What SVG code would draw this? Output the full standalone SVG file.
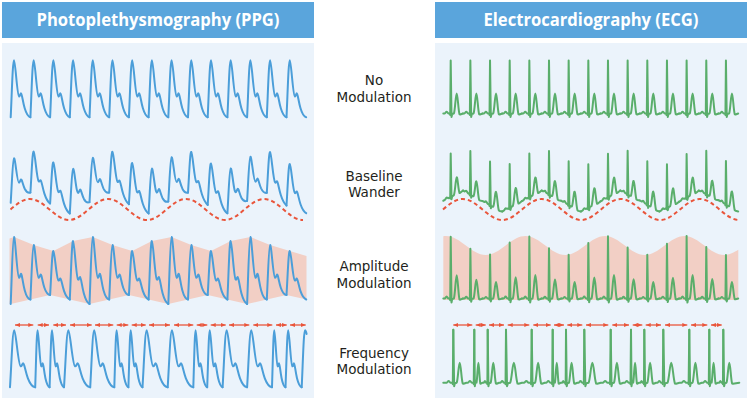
<svg xmlns="http://www.w3.org/2000/svg" xmlns:xlink="http://www.w3.org/1999/xlink" width="750" height="400" viewBox="0 0 750 400">
<style>
.hdr{fill:#5aa5dc}
.panel{fill:#ebf3fb}
.htxt{font-family:"Open Sans","Noto Sans","DejaVu Sans",sans-serif;font-weight:700;font-size:17.5px;fill:#ffffff;text-anchor:middle}
.lbl{font-family:"DejaVu Sans","Liberation Sans",sans-serif;font-size:13.5px;fill:#231f20;text-anchor:middle}
.ppg{fill:none;stroke:#4b9ed9;stroke-width:2;stroke-linejoin:round;stroke-linecap:round}
.ecg{fill:none;stroke:#5aae6b;stroke-width:2;stroke-linejoin:round;stroke-linecap:round}
.wander{fill:none;stroke:#e9553b;stroke-width:2;stroke-dasharray:4 3}
.env{fill:#f2cfc5}
.arr{stroke:#e9553b;stroke-width:1.3;marker-start:url(#ah);marker-end:url(#ah)}
.nss{vector-effect:non-scaling-stroke}
</style>
<defs>
<marker id="ah" viewBox="0 0 5 4" refX="5" refY="2" markerWidth="5" markerHeight="4" markerUnits="userSpaceOnUse" orient="auto-start-reverse"><path d="M0,0 L5,2 L0,4 z" fill="#e9553b"/></marker>
<path id="ppgBeat" class="nss" d="M0,0 C1.2,-25 2,-57 3.3,-57 C4.6,-57 6.4,-22 8.3,-21 C9.2,-20.5 9.6,-24 10.3,-24 C11.2,-24 12,-16 14,-9 C15.5,-4 17.5,-0.5 19.7,0"/>
<path id="ecgBeat" class="nss" d="M0,0 L1.5,0 C2.2,0 2.6,-1.8 3.3,-1.8 C4,-1.8 4.4,0 5.1,0 L6.5,0 L6.9,1.5 L7.4,-53 L8.2,3.5 L8.9,0.5 L10.6,0 C11.8,-3 12.4,-20 13.4,-20 C14.4,-20 15,-3 16.2,0.8 L17,1 L19.66,0"/>
<path id="ecgRR" class="nss" d="M0,-53 L0.8,3.5 L1.5,0.5 L3.2,0 C4.4,-3 5,-20 6,-20 C7,-20 7.6,-3 8.8,0.8 L9.6,1 L12.26,0 L13.76,0 C14.46,0 14.86,-1.8 15.56,-1.8 C16.26,-1.8 16.66,0 17.36,0 L18.76,0 L19.16,1.5 L19.66,-53"/>
</defs>

<g id="ppg-panel">
<rect class="hdr" x="2" y="2" width="312" height="36"/>
<text class="htxt" x="158" y="26" textLength="243" lengthAdjust="spacingAndGlyphs">Photoplethysmography (PPG)</text>
<rect class="panel" x="2" y="43" width="312" height="355"/>
</g>
<g id="ecg-panel">
<rect class="hdr" x="435" y="2" width="312" height="36"/>
<text class="htxt" x="591" y="26" textLength="215" lengthAdjust="spacingAndGlyphs">Electrocardiography (ECG)</text>
<rect class="panel" x="435" y="43" width="312" height="355"/>
</g>

<g id="labels">
<text class="lbl" x="374" y="85">No<tspan x="374" dy="16.5">Modulation</tspan></text>
<text class="lbl" x="374" y="180.7">Baseline<tspan x="374" dy="16.6">Wander</tspan></text>
<text class="lbl" x="374" y="270.5">Amplitude<tspan x="374" dy="17">Modulation</tspan></text>
<text class="lbl" x="374" y="357.5">Frequency<tspan x="374" dy="16.8">Modulation</tspan></text>
</g>

<g id="ppg-no-modulation" class="ppg">
<use xlink:href="#ppgBeat" transform="translate(10.7,117.3)"/>
<use xlink:href="#ppgBeat" transform="translate(30.4,117.3)"/>
<use xlink:href="#ppgBeat" transform="translate(50.1,117.3)"/>
<use xlink:href="#ppgBeat" transform="translate(69.8,117.3)"/>
<use xlink:href="#ppgBeat" transform="translate(89.5,117.3)"/>
<use xlink:href="#ppgBeat" transform="translate(109.2,117.3)"/>
<use xlink:href="#ppgBeat" transform="translate(128.9,117.3)"/>
<use xlink:href="#ppgBeat" transform="translate(148.6,117.3)"/>
<use xlink:href="#ppgBeat" transform="translate(168.3,117.3)"/>
<use xlink:href="#ppgBeat" transform="translate(188,117.3)"/>
<use xlink:href="#ppgBeat" transform="translate(207.7,117.3)"/>
<use xlink:href="#ppgBeat" transform="translate(227.4,117.3)"/>
<use xlink:href="#ppgBeat" transform="translate(247.1,117.3)"/>
<use xlink:href="#ppgBeat" transform="translate(266.8,117.3)"/>
<use xlink:href="#ppgBeat" transform="translate(286.5,117.3)"/>
</g>

<g id="ecg-no-modulation" class="ecg">
<use xlink:href="#ecgBeat" transform="translate(443.3,113.5)"/>
<use xlink:href="#ecgBeat" transform="translate(462.96,113.5)"/>
<use xlink:href="#ecgBeat" transform="translate(482.62,113.5)"/>
<use xlink:href="#ecgBeat" transform="translate(502.28,113.5)"/>
<use xlink:href="#ecgBeat" transform="translate(521.94,113.5)"/>
<use xlink:href="#ecgBeat" transform="translate(541.6,113.5)"/>
<use xlink:href="#ecgBeat" transform="translate(561.26,113.5)"/>
<use xlink:href="#ecgBeat" transform="translate(580.92,113.5)"/>
<use xlink:href="#ecgBeat" transform="translate(600.58,113.5)"/>
<use xlink:href="#ecgBeat" transform="translate(620.24,113.5)"/>
<use xlink:href="#ecgBeat" transform="translate(639.9,113.5)"/>
<use xlink:href="#ecgBeat" transform="translate(659.56,113.5)"/>
<use xlink:href="#ecgBeat" transform="translate(679.22,113.5)"/>
<use xlink:href="#ecgBeat" transform="translate(698.88,113.5)"/>
<use xlink:href="#ecgBeat" transform="translate(718.54,113.5)"/>
</g>

<g id="ppg-baseline-wander">
<path class="wander" d="M10.5,209.5 c6.36,-5.38 12.44,-10.5 19.5,-10.5 c7.06,0 13.14,5.12 19.5,10.5 c6.36,5.38 12.44,10.5 19.5,10.5 c7.06,0 13.14,-5.12 19.5,-10.5 c6.36,-5.38 12.44,-10.5 19.5,-10.5 c7.06,0 13.14,5.12 19.5,10.5 c6.36,5.38 12.44,10.5 19.5,10.5 c7.06,0 13.14,-5.12 19.5,-10.5 c6.36,-5.38 12.44,-10.5 19.5,-10.5 c7.06,0 13.14,5.12 19.5,10.5 c6.36,5.38 12.44,10.5 19.5,10.5 c7.06,0 13.14,-5.12 19.5,-10.5 c6.36,-5.38 12.44,-10.5 19.5,-10.5 c7.06,0 13.14,5.12 19.5,10.5 c6.36,5.38 12.44,10.5 19.5,10.5"/>
<g class="ppg">
<use xlink:href="#ppgBeat" transform="matrix(1,-0.5239,0,0.75,10.7,202.83)"/>
<use xlink:href="#ppgBeat" transform="matrix(1,0.5584,0,0.75,30.4,192.51)"/>
<use xlink:href="#ppgBeat" transform="matrix(1,0.5056,0,0.75,50.1,203.51)"/>
<use xlink:href="#ppgBeat" transform="matrix(1,-0.5741,0,0.75,69.8,213.47)"/>
<use xlink:href="#ppgBeat" transform="matrix(1,-0.4878,0,0.75,89.5,202.16)"/>
<use xlink:href="#ppgBeat" transform="matrix(1,0.5904,0,0.75,109.2,192.55)"/>
<use xlink:href="#ppgBeat" transform="matrix(1,0.4685,0,0.75,128.9,204.18)"/>
<use xlink:href="#ppgBeat" transform="matrix(1,-0.6056,0,0.75,148.6,213.41)"/>
<use xlink:href="#ppgBeat" transform="matrix(1,-0.4487,0,0.75,168.3,201.48)"/>
<use xlink:href="#ppgBeat" transform="matrix(1,0.6198,0,0.75,188,192.64)"/>
<use xlink:href="#ppgBeat" transform="matrix(1,0.4289,0,0.75,207.7,204.85)"/>
<use xlink:href="#ppgBeat" transform="matrix(1,-0.6335,0,0.75,227.4,213.3)"/>
<use xlink:href="#ppgBeat" transform="matrix(1,-0.4086,0,0.75,247.1,200.82)"/>
<use xlink:href="#ppgBeat" transform="matrix(1,0.6472,0,0.75,266.8,192.77)"/>
<use xlink:href="#ppgBeat" transform="matrix(1,0.3878,0,0.75,286.5,205.52)"/>
</g>
</g>

<g id="ecg-baseline-wander">
<path class="wander" d="M443,209.5 c6.44,-5.38 12.6,-10.5 19.75,-10.5 c7.15,0 13.31,5.12 19.75,10.5 c6.44,5.38 12.6,10.5 19.75,10.5 c7.15,0 13.31,-5.12 19.75,-10.5 c6.44,-5.38 12.6,-10.5 19.75,-10.5 c7.15,0 13.31,5.12 19.75,10.5 c6.44,5.38 12.6,10.5 19.75,10.5 c7.15,0 13.31,-5.12 19.75,-10.5 c6.44,-5.38 12.6,-10.5 19.75,-10.5 c7.15,0 13.31,5.12 19.75,10.5 c6.44,5.38 12.6,10.5 19.75,10.5 c7.15,0 13.31,-5.12 19.75,-10.5 c6.44,-5.38 12.6,-10.5 19.75,-10.5 c7.15,0 13.31,5.12 19.75,10.5 c6.44,5.38 12.6,10.5 19.75,10.5"/>
<g class="ecg">
<use xlink:href="#ecgBeat" transform="matrix(1,-0.5214,0,0.82,443.3,200.75)"/>
<use xlink:href="#ecgBeat" transform="matrix(1,0.5392,0,0.82,462.96,190.5)"/>
<use xlink:href="#ecgBeat" transform="matrix(1,0.529,0,0.82,482.62,201.1)"/>
<use xlink:href="#ecgBeat" transform="matrix(1,-0.5315,0,0.82,502.28,211.5)"/>
<use xlink:href="#ecgBeat" transform="matrix(1,-0.5366,0,0.82,521.94,201.05)"/>
<use xlink:href="#ecgBeat" transform="matrix(1,0.5239,0,0.82,541.6,190.5)"/>
<use xlink:href="#ecgBeat" transform="matrix(1,0.5443,0,0.82,561.26,200.8)"/>
<use xlink:href="#ecgBeat" transform="matrix(1,-0.5163,0,0.82,580.92,211.5)"/>
<use xlink:href="#ecgBeat" transform="matrix(1,-0.5514,0,0.82,600.58,201.35)"/>
<use xlink:href="#ecgBeat" transform="matrix(1,0.5081,0,0.82,620.24,190.51)"/>
<use xlink:href="#ecgBeat" transform="matrix(1,0.5585,0,0.82,639.9,200.5)"/>
<use xlink:href="#ecgBeat" transform="matrix(1,-0.5,0,0.82,659.56,211.48)"/>
<use xlink:href="#ecgBeat" transform="matrix(1,-0.5656,0,0.82,679.22,201.65)"/>
<use xlink:href="#ecgBeat" transform="matrix(1,0.4919,0,0.82,698.88,190.53)"/>
<use xlink:href="#ecgBeat" transform="matrix(1,0.5727,0,0.82,718.54,200.2)"/>
</g>
</g>

<g id="ppg-amplitude-modulation">
<polygon class="env" points="9.5,238.5 14,237 33.7,245 53.4,251 73.1,241 92.8,237 112.5,245 132.2,251 151.9,241 171.6,237 191.3,245 211,251 230.7,241 250.4,237 270.1,245 289.8,251 306.5,256 306.5,299.5 286.5,295 266.8,299.5 247.1,304 227.4,299.5 207.7,295 188,299.5 168.3,304 148.6,299.5 128.9,295 109.2,299.5 89.5,304 69.8,299.5 50.1,295 30.4,299.5 10.7,304 9.5,304"/>
<g class="ppg">
<use xlink:href="#ppgBeat" transform="matrix(1,-0.2284,0,1.162,10.7,304)"/>
<use xlink:href="#ppgBeat" transform="matrix(1,-0.2284,0,0.943,30.4,299.5)"/>
<use xlink:href="#ppgBeat" transform="matrix(1,0.2284,0,0.785,50.1,295)"/>
<use xlink:href="#ppgBeat" transform="matrix(1,0.2284,0,1.039,69.8,299.5)"/>
<use xlink:href="#ppgBeat" transform="matrix(1,-0.2284,0,1.162,89.5,304)"/>
<use xlink:href="#ppgBeat" transform="matrix(1,-0.2284,0,0.943,109.2,299.5)"/>
<use xlink:href="#ppgBeat" transform="matrix(1,0.2284,0,0.785,128.9,295)"/>
<use xlink:href="#ppgBeat" transform="matrix(1,0.2284,0,1.039,148.6,299.5)"/>
<use xlink:href="#ppgBeat" transform="matrix(1,-0.2284,0,1.162,168.3,304)"/>
<use xlink:href="#ppgBeat" transform="matrix(1,-0.2284,0,0.943,188,299.5)"/>
<use xlink:href="#ppgBeat" transform="matrix(1,0.2284,0,0.785,207.7,295)"/>
<use xlink:href="#ppgBeat" transform="matrix(1,0.2284,0,1.039,227.4,299.5)"/>
<use xlink:href="#ppgBeat" transform="matrix(1,-0.2284,0,1.162,247.1,304)"/>
<use xlink:href="#ppgBeat" transform="matrix(1,-0.2284,0,0.943,266.8,299.5)"/>
<use xlink:href="#ppgBeat" transform="matrix(1,0.2284,0,0.785,286.5,295)"/>
</g>
</g>

<g id="ecg-amplitude-modulation">
<path class="env" d="M443.3,300 L443.3,236.2 C444.2,236.05 445.1,236 446,236 c7.19,0 13.39,4.63 19.875,9.5 c6.48,4.87 12.68,9.5 19.875,9.5 c7.19,0 13.39,-4.63 19.875,-9.5 c6.48,-4.87 12.68,-9.5 19.875,-9.5 c7.19,0 13.39,4.63 19.875,9.5 c6.48,4.87 12.68,9.5 19.875,9.5 c7.19,0 13.39,-4.63 19.875,-9.5 c6.48,-4.87 12.68,-9.5 19.875,-9.5 c7.19,0 13.39,4.63 19.875,9.5 c6.48,4.87 12.68,9.5 19.875,9.5 c7.19,0 13.39,-4.63 19.875,-9.5 c6.48,-4.87 12.68,-9.5 19.875,-9.5 c7.19,0 13.39,4.63 19.875,9.5 c6.48,4.87 12.68,9.5 19.875,9.5 c5,0 10,-3 14.05,-5.3 L738.3,300 Z"/>
<g class="ecg">
<use xlink:href="#ecgBeat" transform="matrix(1,0,0,1.167,443.3,298.5)"/>
<use xlink:href="#ecgBeat" transform="matrix(1,0,0,0.938,462.96,298.5)"/>
<use xlink:href="#ecgBeat" transform="matrix(1,0,0,0.831,482.62,298.5)"/>
<use xlink:href="#ecgBeat" transform="matrix(1,0,0,1.057,502.28,298.5)"/>
<use xlink:href="#ecgBeat" transform="matrix(1,0,0,1.171,521.94,298.5)"/>
<use xlink:href="#ecgBeat" transform="matrix(1,0,0,0.949,541.6,298.5)"/>
<use xlink:href="#ecgBeat" transform="matrix(1,0,0,0.827,561.26,298.5)"/>
<use xlink:href="#ecgBeat" transform="matrix(1,0,0,1.045,580.92,298.5)"/>
<use xlink:href="#ecgBeat" transform="matrix(1,0,0,1.174,600.58,298.5)"/>
<use xlink:href="#ecgBeat" transform="matrix(1,0,0,0.961,620.24,298.5)"/>
<use xlink:href="#ecgBeat" transform="matrix(1,0,0,0.824,639.9,298.5)"/>
<use xlink:href="#ecgBeat" transform="matrix(1,0,0,1.033,659.56,298.5)"/>
<use xlink:href="#ecgBeat" transform="matrix(1,0,0,1.177,679.22,298.5)"/>
<use xlink:href="#ecgBeat" transform="matrix(1,0,0,0.973,698.88,298.5)"/>
<use xlink:href="#ecgBeat" transform="matrix(1,0,0,0.822,718.54,298.5)"/>
</g>
</g>

<g id="ppg-frequency-modulation">
<g class="arrows">
<line class="arr" x1="15" y1="325" x2="33.3" y2="325"/>
<line class="arr" x1="37.7" y1="325" x2="49" y2="325"/>
<line class="arr" x1="53.3" y1="325" x2="66" y2="325"/>
<line class="arr" x1="70" y1="325" x2="91.7" y2="325"/>
<line class="arr" x1="95" y1="325" x2="113.3" y2="325"/>
<line class="arr" x1="116.7" y1="325" x2="128.3" y2="325"/>
<line class="arr" x1="131.7" y1="325" x2="145.7" y2="325"/>
<line class="arr" x1="149" y1="325" x2="170" y2="325"/>
<line class="arr" x1="174" y1="325" x2="193.3" y2="325"/>
<line class="arr" x1="196.7" y1="325" x2="207.3" y2="325"/>
<line class="arr" x1="210.7" y1="325" x2="225.7" y2="325"/>
<line class="arr" x1="229" y1="325" x2="249.3" y2="325"/>
<line class="arr" x1="253.3" y1="325" x2="272.3" y2="325"/>
<line class="arr" x1="276" y1="325" x2="286.7" y2="325"/>
<line class="arr" x1="290" y1="325" x2="305.7" y2="325"/>
</g>
<g class="ppg">
<use xlink:href="#ppgBeat" transform="matrix(1.279,0,0,1,10,387.3)"/>
<use xlink:href="#ppgBeat" transform="matrix(0.731,0,0,1,35.2,387.3)"/>
<use xlink:href="#ppgBeat" transform="matrix(0.731,0,0,1,49.6,387.3)"/>
<use xlink:href="#ppgBeat" transform="matrix(1.33,0,0,1,64,387.3)"/>
<use xlink:href="#ppgBeat" transform="matrix(1.223,0,0,1,90.2,387.3)"/>
<use xlink:href="#ppgBeat" transform="matrix(0.716,0,0,1,114.3,387.3)"/>
<use xlink:href="#ppgBeat" transform="matrix(0.716,0,0,1,128.4,387.3)"/>
<use xlink:href="#ppgBeat" transform="matrix(1.279,0,0,1,142.5,387.3)"/>
<use xlink:href="#ppgBeat" transform="matrix(1.299,0,0,1,167.7,387.3)"/>
<use xlink:href="#ppgBeat" transform="matrix(0.706,0,0,1,193.3,387.3)"/>
<use xlink:href="#ppgBeat" transform="matrix(0.782,0,0,1,207.2,387.3)"/>
<use xlink:href="#ppgBeat" transform="matrix(1.244,0,0,1,222.6,387.3)"/>
<use xlink:href="#ppgBeat" transform="matrix(1.264,0,0,1,247.1,387.3)"/>
<use xlink:href="#ppgBeat" transform="matrix(0.685,0,0,1,272,387.3)"/>
<use xlink:href="#ppgBeat" transform="matrix(0.822,0,0,1,285.5,387.3)"/>
<path d="M301.7,387.3 C302.9,362.3 303.7,330.3 305,330.3 C305.8,330.3 306.2,332 306.6,334"/>
</g>
</g>

<g id="ecg-frequency-modulation">
<g class="arrows">
<line class="arr" x1="453.3" y1="325" x2="472.3" y2="325"/>
<line class="arr" x1="475.7" y1="325" x2="485.7" y2="325"/>
<line class="arr" x1="489" y1="325" x2="504" y2="325"/>
<line class="arr" x1="507.7" y1="325" x2="529.3" y2="325"/>
<line class="arr" x1="533.3" y1="325" x2="550.7" y2="325"/>
<line class="arr" x1="554" y1="325" x2="564" y2="325"/>
<line class="arr" x1="567.3" y1="325" x2="582.3" y2="325"/>
<line class="arr" x1="586" y1="325" x2="608.3" y2="325"/>
<line class="arr" x1="612.3" y1="325" x2="629" y2="325"/>
<line class="arr" x1="632.7" y1="325" x2="642.3" y2="325"/>
<line class="arr" x1="645.7" y1="325" x2="661" y2="325"/>
<line class="arr" x1="665" y1="325" x2="687.3" y2="325"/>
<line class="arr" x1="691" y1="325" x2="707.3" y2="325"/>
<line class="arr" x1="711" y1="325" x2="721.7" y2="325"/>
</g>
<g class="ecg">
<path d="M443.3,382.7 L446.8,382.7 C447.5,382.7 447.9,380.9 448.6,380.9 C449.3,380.9 449.7,382.7 450.4,382.7 L452.4,382.7 L452.8,384.2 L453.3,329.7"/>
<use xlink:href="#ecgRR" transform="matrix(1.068,0,0,1,453.3,382.7)"/>
<use xlink:href="#ecgRR" transform="matrix(0.682,0,0,1,474.3,382.7)"/>
<use xlink:href="#ecgRR" transform="matrix(0.931,0,0,1,487.7,382.7)"/>
<use xlink:href="#ecgRR" transform="matrix(1.307,0,0,1,506,382.7)"/>
<use xlink:href="#ecgRR" transform="matrix(1.068,0,0,1,531.7,382.7)"/>
<use xlink:href="#ecgRR" transform="matrix(0.677,0,0,1,552.7,382.7)"/>
<use xlink:href="#ecgRR" transform="matrix(0.931,0,0,1,566,382.7)"/>
<use xlink:href="#ecgRR" transform="matrix(1.343,0,0,1,584.3,382.7)"/>
<use xlink:href="#ecgRR" transform="matrix(1.033,0,0,1,610.7,382.7)"/>
<use xlink:href="#ecgRR" transform="matrix(0.677,0,0,1,631,382.7)"/>
<use xlink:href="#ecgRR" transform="matrix(0.966,0,0,1,644.3,382.7)"/>
<use xlink:href="#ecgRR" transform="matrix(1.322,0,0,1,663.3,382.7)"/>
<use xlink:href="#ecgRR" transform="matrix(1.017,0,0,1,689.3,382.7)"/>
<use xlink:href="#ecgRR" transform="matrix(0.712,0,0,1,709.3,382.7)"/>
<path d="M723.3,329.7 L724.1,386.2 L724.8,383.2 L726.5,382.7 C727.7,379.7 728.3,362.7 729.3,362.7 C730.3,362.7 730.9,379.7 732.1,383.5 L732.9,383.7 L739.3,382.7"/>
</g>
</g>
</svg>
